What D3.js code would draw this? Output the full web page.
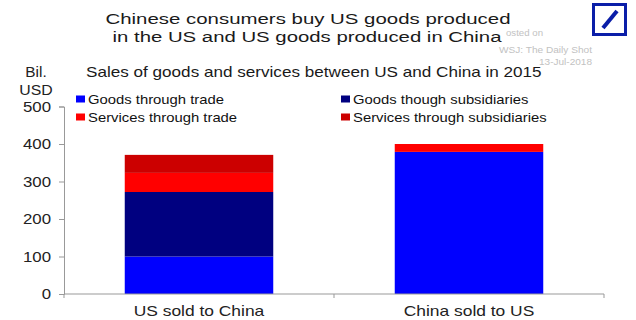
<!DOCTYPE html>
<html>
<head>
<meta charset="utf-8">
<script src="https://cdn.jsdelivr.net/npm/d3@7"></script>
<style>
  body { margin: 0; background: #fff; }
  svg { display: block; font-family: "Liberation Sans", Arial, sans-serif; }
</style>
</head>
<body>
<div id="chart"></div>
<script>
// Data
const categories = ["US sold to China", "China sold to US"];
const seriesNames = ["Goods through trade", "Goods though subsidiaries", "Services through trade", "Services through subsidiaries"];
const goodsTrade = [100, 379];
const goodsSubs = [172, 0];
const servicesTrade = [51, 21];
const servicesSubs = [48, 0];
const yTicks = [0, 100, 200, 300, 400, 500];
const colors = ["#0000ff", "#000080", "#ff0000", "#cc0000"];

const width = 636, height = 320;
const marginLeft = 64, marginRight = 32, marginTop = 106.5, marginBottom = 26;

// the original picture is a bit wider than tall, so text gets stretched
function stretch(sel, k) {
    sel.each(function () {
        const w = this.getComputedTextLength();
        d3.select(this).attr("textLength", w * k).attr("lengthAdjust", "spacingAndGlyphs");
    });
}

const rows = categories.map((c, i) => ({
    cat: c,
    [seriesNames[0]]: goodsTrade[i],
    [seriesNames[1]]: goodsSubs[i],
    [seriesNames[2]]: servicesTrade[i],
    [seriesNames[3]]: servicesSubs[i]
}));
const stacked = d3.stack().keys(seriesNames)(rows);

const x = d3.scaleBand()
    .domain(categories)
    .range([marginLeft, width - marginRight])
    .paddingInner(0.45)
    .paddingOuter(0.225);

const y = d3.scaleLinear()
    .domain([0, 500])
    .range([height - marginBottom, marginTop]);

const svg = d3.select("#chart").append("svg")
    .attr("width", width)
    .attr("height", height);

// Bars
svg.append("g").selectAll("g")
    .data(stacked)
    .join("g")
    .attr("fill", (d, i) => colors[i])
    .selectAll("rect")
    .data(d => d)
    .join("rect")
    .attr("x", d => x(d.data.cat))
    .attr("width", x.bandwidth())
    .attr("y", d => y(d[1]))
    .attr("height", d => y(d[0]) - y(d[1]));

// Y axis
const yAxis = svg.append("g")
    .attr("transform", `translate(${marginLeft},0)`)
    .call(d3.axisLeft(y).tickValues(yTicks).tickSize(5).tickPadding(8));
yAxis.select(".domain").attr("stroke", "#999");
yAxis.selectAll(".tick line").attr("stroke", "#999");
yAxis.selectAll(".tick text").attr("font-size", 15).attr("fill", "#222")
    .attr("font-family", "Liberation Sans, Arial, sans-serif")
    .call(stretch, 1.12);

// X axis
const x0 = y(0);
const xAxis = svg.append("g")
    .attr("transform", `translate(0,${x0})`);
xAxis.append("line")
    .attr("x1", marginLeft).attr("x2", width - marginRight)
    .attr("stroke", "#999");
const xTickPos = [marginLeft, (marginLeft + width - marginRight) / 2, width - marginRight];
xAxis.selectAll("line.tk")
    .data(xTickPos)
    .join("line")
    .attr("class", "tk")
    .attr("x1", d => d).attr("x2", d => d)
    .attr("y1", 0).attr("y2", 4)
    .attr("stroke", "#999");
xAxis.selectAll("text")
    .data(categories)
    .join("text")
    .attr("x", d => x(d) + x.bandwidth() / 2)
    .attr("y", 22)
    .attr("text-anchor", "middle")
    .attr("font-size", 15)
    .attr("fill", "#222")
    .text(d => d)
    .call(stretch, 1.16);

// Unit label
svg.append("text").attr("x", 36).attr("y", 77).attr("text-anchor", "middle")
    .attr("font-size", 14).attr("fill", "#222").text("Bil.").call(stretch, 1.1);
svg.append("text").attr("x", 36).attr("y", 95).attr("text-anchor", "middle")
    .attr("font-size", 14).attr("fill", "#222").text("USD").call(stretch, 1.13);

// Titles
svg.append("text").attr("x", 308).attr("y", 24).attr("text-anchor", "middle")
    .attr("font-size", 15.5).attr("fill", "#1a1a1a")
    .attr("textLength", 405).attr("lengthAdjust", "spacingAndGlyphs")
    .text("Chinese consumers buy US goods produced");
svg.append("text").attr("x", 307).attr("y", 42).attr("text-anchor", "middle")
    .attr("font-size", 15.5).attr("fill", "#1a1a1a")
    .attr("textLength", 389).attr("lengthAdjust", "spacingAndGlyphs")
    .text("in the US and US goods produced in China");
svg.append("text").attr("x", 86).attr("y", 77)
    .attr("font-size", 14.5).attr("fill", "#1a1a1a")
    .text("Sales of goods and services between US and China in 2015").call(stretch, 1.18);

// Watermark
const wm = [["osted on", 506, 36, 37], ["WSJ: The Daily Shot", 499, 53, 93], ["13-Jul-2018", 539, 65, 53]];
svg.selectAll("text.wm")
    .data(wm)
    .join("text")
    .attr("class", "wm")
    .attr("x", d => d[1]).attr("y", d => d[2])
    .attr("font-size", 9).attr("fill", "#c2c2c2")
    .attr("textLength", d => d[3]).attr("lengthAdjust", "spacingAndGlyphs")
    .text(d => d[0]);

// Logo
const logo = svg.append("g");
logo.append("rect").attr("x", 593.5).attr("y", 4.5).attr("width", 32).attr("height", 30)
    .attr("fill", "none").attr("stroke", "#0a1ea8").attr("stroke-width", 3);
logo.append("line").attr("x1", 603).attr("y1", 28).attr("x2", 617).attr("y2", 11)
    .attr("stroke", "#0a1ea8").attr("stroke-width", 4);

// Legend
const legend = svg.append("g");
const legendPos = [[76, 99], [341, 99], [76, 117], [341, 117]];
const legendItems = seriesNames.map((n, i) => ({ name: n, color: colors[i], pos: legendPos[i] }));
const li = legend.selectAll("g")
    .data(legendItems)
    .join("g")
    .attr("transform", d => `translate(${d.pos[0]},${d.pos[1]})`);
li.append("rect").attr("x", 0).attr("y", -3.5).attr("width", 9).attr("height", 7)
    .attr("fill", d => d.color);
li.append("text").attr("x", 12).attr("y", 4.5)
    .attr("font-size", 13).attr("fill", "#111")
    .text(d => d.name)
    .call(stretch, 1.14);
</script>
</body>
</html>
